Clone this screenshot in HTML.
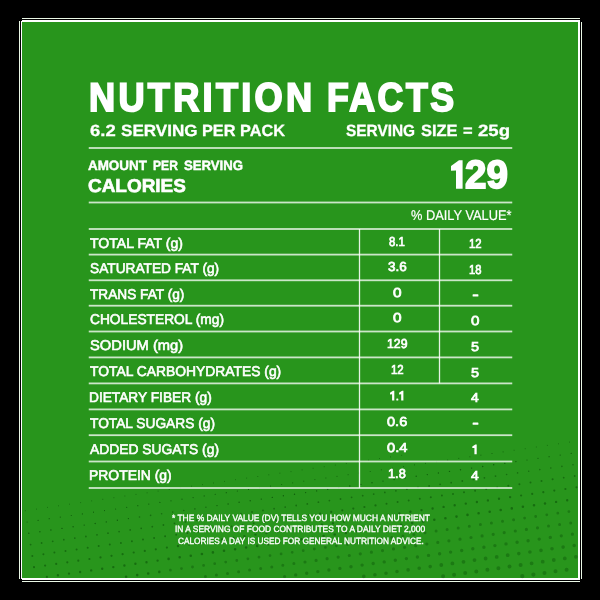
<!DOCTYPE html>
<html><head><meta charset="utf-8"><title>Nutrition Facts</title>
<style>
html,body{margin:0;padding:0;background:#000;}
body{width:600px;height:600px;position:relative;overflow:hidden;font-family:"Liberation Sans",sans-serif;color:#fff;}
.edge{position:absolute;background:#fff;}
.panel{position:absolute;left:22px;top:21.8px;width:555.9px;height:556.4px;background:#28951c;}
.t{position:absolute;white-space:nowrap;transform-origin:0 0;color:#fff;text-rendering:geometricPrecision;}
.l{position:absolute;background:rgba(255,255,255,0.76);}
svg{position:absolute;left:0;top:0;}
</style></head><body>
<div class="edge" style="left:19px;top:17.8px;width:563px;height:564.2px;background:#eaf7e6"></div>
<div class="edge" style="left:20px;top:18.9px;width:560.9px;height:562.1px;background:#000"></div>
<div class="edge" style="left:20.8px;top:19.8px;width:559.2px;height:560.2px"></div>
<div class="edge" style="left:18px;top:17px;width:4px;height:3.8px;background:#000"></div>
<div class="edge" style="left:580px;top:17px;width:3px;height:4.5px;background:#000"></div>
<div class="edge" style="left:580px;top:578.5px;width:3px;height:4.5px;background:#000"></div>
<div class="edge" style="left:18px;top:578.5px;width:4px;height:4.5px;background:#000"></div>
<div class="panel"></div>
<svg width="600" height="600" viewBox="0 0 600 600">
<g fill="none" stroke-linecap="round"><path stroke="rgba(0,62,0,0.62)" stroke-width="0.8" d="M25.3 510.7h0M36.4 509.1h0M47.4 507.4h0M58.5 505.8h0M69.6 504.2h0M80.7 502.6h0M91.7 500.9h0M102.8 499.3h0M113.9 497.7h0M124.9 496.0h0M136.0 494.4h0M147.1 492.8h0M158.1 491.1h0M169.2 489.5h0M180.3 487.9h0M191.4 486.2h0M202.4 484.6h0M213.5 483.0h0M224.6 481.4h0M235.6 479.7h0M246.7 478.1h0M257.8 476.5h0M268.8 474.8h0M279.9 473.2h0M291.0 471.6h0M302.1 469.9h0M313.1 468.3h0M324.2 466.7h0M335.3 465.1h0M346.3 463.4h0M357.4 461.8h0M368.5 460.2h0M379.5 458.5h0M390.6 456.9h0M401.7 455.3h0M514.1 450.3h0M525.2 448.7h0M536.3 447.0h0M547.3 445.4h0M558.4 443.8h0M569.5 442.1h0"/><path stroke="rgba(0,62,0,0.62)" stroke-width="1.0" d="M270.6 486.1h0M281.7 484.5h0M292.7 482.9h0M303.8 481.2h0M314.9 479.6h0M325.9 478.0h0M337.0 476.4h0M348.1 474.7h0M359.2 473.1h0M370.2 471.5h0M381.3 469.8h0M392.4 468.2h0M403.4 466.6h0M414.5 464.9h0M425.6 463.3h0M436.6 461.7h0M447.7 460.1h0M458.8 458.4h0M469.9 456.8h0M480.9 455.2h0M492.0 453.5h0M503.1 451.9h0"/><path stroke="rgba(0,62,0,0.62)" stroke-width="1.2" d="M27.1 522.0h0M38.1 520.4h0M49.2 518.7h0M60.3 517.1h0M71.3 515.5h0M82.4 513.9h0M93.5 512.2h0M104.5 510.6h0M115.6 509.0h0M126.7 507.3h0M137.8 505.7h0M148.8 504.1h0M159.9 502.4h0M171.0 500.8h0M182.0 499.2h0M193.1 497.6h0M204.2 495.9h0M215.2 494.3h0M226.3 492.7h0M237.4 491.0h0M248.5 489.4h0M259.5 487.8h0M527.0 460.0h0M538.0 458.3h0M549.1 456.7h0M560.2 455.1h0M571.2 453.4h0"/><path stroke="rgba(0,62,0,0.62)" stroke-width="1.4" d="M28.8 533.3h0M39.9 531.7h0M50.9 530.0h0M62.0 528.4h0M73.1 526.8h0M84.2 525.1h0M95.2 523.5h0M106.3 521.9h0M117.4 520.3h0M128.4 518.6h0M217.0 505.6h0M228.1 504.0h0M239.1 502.3h0M250.2 500.7h0M261.3 499.1h0M272.3 497.4h0M283.4 495.8h0M294.5 494.2h0M305.6 492.6h0M316.6 490.9h0M327.7 489.3h0M338.8 487.7h0M349.8 486.0h0M360.9 484.4h0M372.0 482.8h0M383.0 481.1h0M394.1 479.5h0M405.2 477.9h0M416.2 476.2h0M427.3 474.6h0M438.4 473.0h0M449.5 471.4h0M460.5 469.7h0M471.6 468.1h0M482.7 466.5h0M493.7 464.8h0M504.8 463.2h0M515.9 461.6h0"/><path stroke="rgba(0,62,0,0.44)" stroke-width="1.6" d="M139.5 517.0h0M150.6 515.4h0M161.6 513.7h0M172.7 512.1h0M183.8 510.5h0M194.9 508.9h0M205.9 507.2h0M506.6 474.5h0M517.6 472.9h0M528.7 471.2h0M539.8 469.6h0M550.8 468.0h0M561.9 466.4h0M573.0 464.7h0"/><path stroke="rgba(0,62,0,0.44)" stroke-width="1.8" d="M30.6 544.6h0M41.6 543.0h0M52.7 541.3h0M63.8 539.7h0M74.8 538.1h0M85.9 536.5h0M97.0 534.8h0M108.0 533.2h0M119.1 531.6h0M130.2 529.9h0M141.2 528.3h0M152.3 526.7h0M163.4 525.0h0M174.5 523.4h0M185.5 521.8h0M196.6 520.1h0M207.7 518.5h0M218.7 516.9h0M229.8 515.3h0M240.9 513.6h0M252.0 512.0h0M263.0 510.4h0M274.1 508.7h0M285.2 507.1h0M296.2 505.5h0M307.3 503.9h0M318.4 502.2h0M329.4 500.6h0M340.5 499.0h0M351.6 497.3h0M362.7 495.7h0M373.7 494.1h0M384.8 492.4h0M395.9 490.8h0M406.9 489.2h0M418.0 487.5h0M429.1 485.9h0M440.1 484.3h0M451.2 482.7h0M462.3 481.0h0M473.4 479.4h0M484.4 477.8h0M495.5 476.1h0M563.7 477.7h0M574.7 476.0h0"/><path stroke="rgba(0,62,0,0.44)" stroke-width="2.0" d="M32.3 555.9h0M43.4 554.3h0M54.4 552.6h0M65.5 551.0h0M76.6 549.4h0M87.7 547.8h0M98.7 546.1h0M109.8 544.5h0M120.9 542.9h0M131.9 541.2h0M143.0 539.6h0M154.1 538.0h0M165.1 536.3h0M176.2 534.7h0M187.3 533.1h0M198.4 531.5h0M209.4 529.8h0M220.5 528.2h0M231.6 526.6h0M242.6 524.9h0M253.7 523.3h0M386.5 503.7h0M397.6 502.1h0M408.7 500.5h0M419.8 498.8h0M430.8 497.2h0M441.9 495.6h0M453.0 494.0h0M464.0 492.3h0M475.1 490.7h0M486.2 489.1h0M497.2 487.4h0M508.3 485.8h0M519.4 484.2h0M530.5 482.6h0M541.5 480.9h0M552.6 479.3h0"/><path stroke="rgba(0,62,0,0.44)" stroke-width="2.2" d="M34.0 567.2h0M45.1 565.6h0M46.9 576.9h0M56.2 563.9h0M67.3 562.3h0M78.3 560.7h0M89.4 559.0h0M100.5 557.4h0M111.5 555.8h0M122.6 554.2h0M133.7 552.5h0M144.8 550.9h0M155.8 549.3h0M166.9 547.6h0M264.8 521.7h0M275.8 520.0h0M286.9 518.4h0M298.0 516.8h0M309.1 515.1h0M320.1 513.5h0M331.2 511.9h0M342.3 510.3h0M353.3 508.6h0M364.4 507.0h0M375.5 505.4h0M521.1 495.5h0M532.2 493.9h0M543.3 492.2h0M554.3 490.6h0M565.4 489.0h0M576.5 487.3h0"/><path stroke="rgba(0,62,0,0.44)" stroke-width="2.4" d="M57.9 575.2h0M69.0 573.6h0M80.1 572.0h0M91.2 570.4h0M102.2 568.7h0M113.3 567.1h0M124.4 565.5h0M135.4 563.8h0M146.5 562.2h0M157.6 560.6h0M178.0 546.0h0M189.0 544.4h0M200.1 542.8h0M211.2 541.1h0M222.2 539.5h0M233.3 537.9h0M244.4 536.2h0M255.5 534.6h0M266.5 533.0h0M277.6 531.3h0M288.7 529.7h0M299.7 528.1h0M310.8 526.5h0M321.9 524.8h0M332.9 523.2h0M344.0 521.6h0M355.1 519.9h0M366.2 518.3h0M377.2 516.7h0M388.3 515.0h0M399.4 513.4h0M410.4 511.8h0M421.5 510.1h0M432.6 508.5h0M443.6 506.9h0M454.7 505.3h0M465.8 503.6h0M476.9 502.0h0M487.9 500.4h0M499.0 498.7h0M510.1 497.1h0M556.1 501.9h0M567.2 500.3h0"/><path stroke="rgba(0,62,0,0.44)" stroke-width="2.6" d="M126.1 576.8h0M137.2 575.1h0M148.2 573.5h0M159.3 571.9h0M168.6 558.9h0M179.7 557.3h0M190.8 555.7h0M201.9 554.0h0M212.9 552.4h0M224.0 550.8h0M235.1 549.2h0M246.1 547.5h0M257.2 545.9h0M268.3 544.3h0M279.3 542.6h0M290.4 541.0h0M301.5 539.4h0M312.6 537.8h0M323.6 536.1h0M334.7 534.5h0M345.8 532.9h0M356.8 531.2h0M367.9 529.6h0M379.0 528.0h0M390.0 526.3h0M401.1 524.7h0M412.2 523.1h0M423.2 521.5h0M434.3 519.8h0M445.4 518.2h0M456.5 516.6h0M467.5 514.9h0M478.6 513.3h0M489.7 511.7h0M500.7 510.0h0M511.8 508.4h0M522.9 506.8h0M534.0 505.2h0M545.0 503.5h0"/><path stroke="rgba(0,62,0,0.31)" stroke-width="2.8" d="M170.4 570.2h0M181.5 568.6h0M192.5 567.0h0M203.6 565.4h0M214.7 563.7h0M225.7 562.1h0M236.8 560.5h0M247.9 558.8h0M259.0 557.2h0M270.0 555.6h0M281.1 553.9h0M292.2 552.3h0M303.2 550.7h0M314.3 549.0h0M325.4 547.4h0M336.4 545.8h0M524.6 518.1h0M535.7 516.5h0M546.8 514.8h0M557.8 513.2h0M568.9 511.6h0"/><path stroke="rgba(0,62,0,0.31)" stroke-width="3.0" d="M205.4 576.6h0M216.4 575.0h0M227.5 573.4h0M238.6 571.8h0M249.6 570.1h0M260.7 568.5h0M271.8 566.9h0M282.8 565.2h0M293.9 563.6h0M347.5 544.2h0M358.6 542.5h0M369.7 540.9h0M380.7 539.3h0M391.8 537.6h0M402.9 536.0h0M413.9 534.4h0M425.0 532.8h0M436.1 531.1h0M447.1 529.5h0M458.2 527.9h0M469.3 526.2h0M480.4 524.6h0M491.4 523.0h0M502.5 521.3h0M513.6 519.7h0M548.5 526.1h0M559.6 524.5h0M570.7 522.9h0"/><path stroke="rgba(0,62,0,0.31)" stroke-width="3.2" d="M284.6 576.5h0M305.0 562.0h0M316.1 560.4h0M327.1 558.7h0M338.2 557.1h0M349.3 555.5h0M360.3 553.8h0M371.4 552.2h0M382.5 550.6h0M393.5 548.9h0M404.6 547.3h0M415.7 545.7h0M426.8 544.0h0M437.8 542.4h0M448.9 540.8h0M460.0 539.2h0M471.0 537.5h0M482.1 535.9h0M493.2 534.3h0M504.2 532.6h0M515.3 531.0h0M526.4 529.4h0M537.5 527.8h0M561.3 535.8h0M572.4 534.2h0"/><path stroke="rgba(0,62,0,0.31)" stroke-width="3.4" d="M295.7 574.9h0M306.7 573.3h0M317.8 571.6h0M328.9 570.0h0M339.9 568.4h0M351.0 566.8h0M362.1 565.1h0M373.2 563.5h0M384.2 561.9h0M395.3 560.2h0M406.4 558.6h0M417.4 557.0h0M428.5 555.4h0M439.6 553.7h0M450.6 552.1h0M461.7 550.5h0M472.8 548.8h0M483.9 547.2h0M494.9 545.6h0M506.0 543.9h0M517.1 542.3h0M528.1 540.7h0M539.2 539.1h0M550.3 537.4h0"/><path stroke="rgba(0,62,0,0.31)" stroke-width="3.6" d="M363.8 576.4h0M374.9 574.8h0M386.0 573.2h0M397.0 571.5h0M408.1 569.9h0M419.2 568.3h0M430.2 566.6h0M518.8 553.6h0M529.9 552.0h0M541.0 550.4h0M552.0 548.7h0M563.1 547.1h0M574.2 545.5h0"/><path stroke="rgba(0,62,0,0.31)" stroke-width="3.8" d="M441.3 565.0h0M452.4 563.4h0M463.5 561.8h0M474.5 560.1h0M485.6 558.5h0M496.7 556.9h0M507.7 555.2h0M531.6 563.3h0M542.7 561.7h0M553.8 560.0h0M564.8 558.4h0M575.9 556.8h0"/><path stroke="rgba(0,62,0,0.31)" stroke-width="4.0" d="M443.1 576.3h0M454.1 574.7h0M465.2 573.1h0M476.3 571.4h0M487.4 569.8h0M498.4 568.2h0M509.5 566.5h0M520.6 564.9h0M544.5 573.0h0M555.5 571.3h0M566.6 569.7h0"/><path stroke="rgba(0,62,0,0.31)" stroke-width="4.2" d="M522.3 576.2h0M533.4 574.6h0"/></g>
<rect x="88.75" y="147.10" width="423.50" height="1.8" fill="rgba(255,255,255,0.76)"/>
<rect x="88.75" y="201.60" width="423.50" height="1.8" fill="rgba(255,255,255,0.76)"/>
<rect x="88.75" y="228.10" width="423.50" height="1.8" fill="rgba(255,255,255,0.76)"/>
<rect x="88.75" y="253.70" width="423.50" height="1.8" fill="rgba(255,255,255,0.76)"/>
<rect x="88.75" y="279.40" width="423.50" height="1.8" fill="rgba(255,255,255,0.76)"/>
<rect x="88.75" y="304.80" width="423.50" height="1.8" fill="rgba(255,255,255,0.76)"/>
<rect x="88.75" y="330.60" width="423.50" height="1.8" fill="rgba(255,255,255,0.76)"/>
<rect x="88.75" y="356.50" width="423.50" height="1.8" fill="rgba(255,255,255,0.76)"/>
<rect x="88.75" y="382.50" width="423.50" height="1.8" fill="rgba(255,255,255,0.76)"/>
<rect x="88.75" y="408.50" width="423.50" height="1.8" fill="rgba(255,255,255,0.76)"/>
<rect x="88.75" y="434.30" width="423.50" height="1.8" fill="rgba(255,255,255,0.76)"/>
<rect x="88.75" y="460.60" width="423.50" height="1.8" fill="rgba(255,255,255,0.76)"/>
<rect x="88.75" y="487.10" width="423.50" height="1.8" fill="rgba(255,255,255,0.76)"/>
<rect x="358.85" y="229.00" width="1.3" height="259.00" fill="rgba(255,255,255,0.88)"/>
<rect x="438.85" y="229.00" width="1.3" height="154.40" fill="rgba(255,255,255,0.88)"/>
<rect x="472.60" y="294.20" width="5.8" height="2.2" rx="0.5" fill="#fff"/>
<rect x="472.60" y="422.50" width="5.8" height="2.2" rx="0.5" fill="#fff"/>
<polygon points="451,166 459,160.2 462.6,160.2 462.6,188.8 456,188.8 456,170.6 451,170.8" fill="#fff"/>
<polygon points="390.00,392.77 392.97,390.80 394.30,390.80 394.30,400.50 392.08,400.50 392.08,394.33 390.00,394.40" fill="#fff"/><polygon points="399.10,392.77 402.07,390.80 403.40,390.80 403.40,400.50 401.18,400.50 401.18,394.33 399.10,394.40" fill="#fff"/><rect x="396.3" y="398.50" width="2" height="2" rx="0.6" fill="#fff"/><polygon points="472.30,446.47 475.33,444.50 476.70,444.50 476.70,454.20 474.42,454.20 474.42,448.03 472.30,448.10" fill="#fff"/>
</svg>
<div id="txt" style="position:absolute;left:0;top:0;width:600px;height:600px;will-change:transform;">
<div class="t" style="left:89.19px;top:78.12px;font-size:40.12px;line-height:40.12px;transform:scaleX(0.9027);font-weight:700;-webkit-text-stroke:1.90px #fff;letter-spacing:0.09em;">NUTRITION</div>
<div class="t" style="left:326.70px;top:78.12px;font-size:40.12px;line-height:40.12px;transform:scaleX(0.8900);font-weight:700;-webkit-text-stroke:1.90px #fff;letter-spacing:0.07em;">FACTS</div>
<div class="t" style="left:90.02px;top:122.53px;font-size:16.28px;line-height:16.28px;transform:scaleX(1.1348);font-weight:700;-webkit-text-stroke:0.30px #fff;">6.2</div>
<div class="t" style="left:120.82px;top:122.53px;font-size:16.28px;line-height:16.28px;transform:scaleX(1.0498);font-weight:700;-webkit-text-stroke:0.30px #fff;">SERVING</div>
<div class="t" style="left:201.77px;top:122.53px;font-size:16.28px;line-height:16.28px;transform:scaleX(1.0001);font-weight:700;-webkit-text-stroke:0.30px #fff;">PER</div>
<div class="t" style="left:240.27px;top:122.53px;font-size:16.28px;line-height:16.28px;transform:scaleX(1.0013);font-weight:700;-webkit-text-stroke:0.30px #fff;">PACK</div>
<div class="t" style="left:346.03px;top:122.53px;font-size:16.28px;line-height:16.28px;transform:scaleX(0.9471);font-weight:700;-webkit-text-stroke:0.30px #fff;">SERVING</div>
<div class="t" style="left:420.82px;top:122.53px;font-size:16.28px;line-height:16.28px;transform:scaleX(1.0125);font-weight:700;-webkit-text-stroke:0.30px #fff;">SIZE</div>
<div class="t" style="left:462.50px;top:122.53px;font-size:16.28px;line-height:16.28px;transform:scaleX(1.0125);font-weight:700;-webkit-text-stroke:0.30px #fff;">=</div>
<div class="t" style="left:477.61px;top:122.53px;font-size:16.28px;line-height:16.28px;transform:scaleX(1.1424);font-weight:700;-webkit-text-stroke:0.30px #fff;">25g</div>
<div class="t" style="left:87.86px;top:158.65px;font-size:13.52px;line-height:13.52px;transform:scaleX(0.9918);font-weight:700;-webkit-text-stroke:0.45px #fff;">AMOUNT</div>
<div class="t" style="left:153.18px;top:158.65px;font-size:13.52px;line-height:13.52px;transform:scaleX(0.8945);font-weight:700;-webkit-text-stroke:0.45px #fff;">PER</div>
<div class="t" style="left:183.96px;top:158.65px;font-size:13.52px;line-height:13.52px;transform:scaleX(0.9734);font-weight:700;-webkit-text-stroke:0.45px #fff;">SERVING</div>
<div class="t" style="left:87.97px;top:177.21px;font-size:18.68px;line-height:18.68px;transform:scaleX(1.0144);font-weight:700;-webkit-text-stroke:0.65px #fff;">CALORIES</div>
<div class="t" style="left:452px;top:156px;font-size:36px;line-height:36px;color:transparent;transform:scaleX(0.5)">1</div>
<div class="t" style="left:465.07px;top:155.63px;font-size:39.53px;line-height:39.53px;transform:scaleX(0.9755);font-weight:700;-webkit-text-stroke:1.80px #fff;">29</div>
<div class="t" style="left:410.85px;top:208.47px;font-size:14.10px;line-height:14.10px;transform:scaleX(0.9104);-webkit-text-stroke:0.20px #fff;">% DAILY VALUE*</div>
<div class="t" style="left:89.94px;top:235.52px;font-size:14.10px;line-height:14.10px;transform:scaleX(0.9978);-webkit-text-stroke:0.60px #fff;">TOTAL FAT (g)</div>
<div class="t" style="left:389.40px;top:235.60px;font-size:12.94px;line-height:12.94px;transform:scaleX(0.8823);-webkit-text-stroke:0.70px #fff;">8.1</div>
<div class="t" style="left:469.06px;top:237.50px;font-size:12.94px;line-height:12.94px;transform:scaleX(0.8759);-webkit-text-stroke:0.70px #fff;">12</div>
<div class="t" style="left:89.74px;top:261.27px;font-size:14.10px;line-height:14.10px;transform:scaleX(0.9721);-webkit-text-stroke:0.60px #fff;">SATURATED FAT (g)</div>
<div class="t" style="left:387.74px;top:261.20px;font-size:12.94px;line-height:12.94px;transform:scaleX(1.0420);-webkit-text-stroke:0.70px #fff;">3.6</div>
<div class="t" style="left:469.07px;top:264.20px;font-size:12.94px;line-height:12.94px;transform:scaleX(0.8676);-webkit-text-stroke:0.70px #fff;">18</div>
<div class="t" style="left:89.86px;top:286.97px;font-size:14.10px;line-height:14.10px;transform:scaleX(0.9697);-webkit-text-stroke:0.60px #fff;">TRANS FAT (g)</div>
<div class="t" style="left:393.24px;top:287.20px;font-size:12.94px;line-height:12.94px;transform:scaleX(1.1903);-webkit-text-stroke:0.70px #fff;">0</div>
<div class="t" style="left:89.60px;top:312.37px;font-size:14.10px;line-height:14.10px;transform:scaleX(0.9761);-webkit-text-stroke:0.60px #fff;">CHOLESTEROL (mg)</div>
<div class="t" style="left:393.24px;top:311.50px;font-size:12.94px;line-height:12.94px;transform:scaleX(1.1903);-webkit-text-stroke:0.70px #fff;">0</div>
<div class="t" style="left:471.29px;top:315.40px;font-size:12.94px;line-height:12.94px;transform:scaleX(1.1766);-webkit-text-stroke:0.70px #fff;">0</div>
<div class="t" style="left:89.72px;top:338.23px;font-size:14.10px;line-height:14.10px;transform:scaleX(1.0443);-webkit-text-stroke:0.60px #fff;">SODIUM (mg)</div>
<div class="t" style="left:386.78px;top:337.90px;font-size:12.94px;line-height:12.94px;transform:scaleX(0.9485);-webkit-text-stroke:0.70px #fff;">129</div>
<div class="t" style="left:471.35px;top:341.00px;font-size:12.94px;line-height:12.94px;transform:scaleX(1.1160);-webkit-text-stroke:0.70px #fff;">5</div>
<div class="t" style="left:89.63px;top:364.07px;font-size:14.10px;line-height:14.10px;transform:scaleX(0.9832);-webkit-text-stroke:0.60px #fff;">TOTAL CARBOHYDRATES (g)</div>
<div class="t" style="left:390.77px;top:364.40px;font-size:12.94px;line-height:12.94px;transform:scaleX(0.8816);-webkit-text-stroke:0.70px #fff;">12</div>
<div class="t" style="left:471.35px;top:366.80px;font-size:12.94px;line-height:12.94px;transform:scaleX(1.1160);-webkit-text-stroke:0.70px #fff;">5</div>
<div class="t" style="left:89.18px;top:390.07px;font-size:14.10px;line-height:14.10px;transform:scaleX(0.9732);-webkit-text-stroke:0.60px #fff;">DIETARY FIBER (g)</div>
<div class="t" style="left:389.60px;top:390.40px;font-size:12.94px;line-height:12.94px;transform:scaleX(0.8090);color:transparent;">1.1</div>
<div class="t" style="left:470.60px;top:391.60px;font-size:12.94px;line-height:12.94px;transform:scaleX(1.0734);-webkit-text-stroke:0.70px #fff;">4</div>
<div class="t" style="left:89.77px;top:416.07px;font-size:14.10px;line-height:14.10px;transform:scaleX(0.9750);-webkit-text-stroke:0.60px #fff;">TOTAL SUGARS (g)</div>
<div class="t" style="left:387.09px;top:416.40px;font-size:12.94px;line-height:12.94px;transform:scaleX(1.1244);-webkit-text-stroke:0.70px #fff;">0.6</div>
<div class="t" style="left:90.33px;top:441.87px;font-size:14.10px;line-height:14.10px;transform:scaleX(0.9828);-webkit-text-stroke:0.60px #fff;">ADDED SUGATS (g)</div>
<div class="t" style="left:387.10px;top:442.00px;font-size:12.94px;line-height:12.94px;transform:scaleX(1.1306);-webkit-text-stroke:0.70px #fff;">0.4</div>
<div class="t" style="left:471.99px;top:443.80px;font-size:12.94px;line-height:12.94px;transform:scaleX(0.6510);color:transparent;">1</div>
<div class="t" style="left:89.39px;top:468.17px;font-size:14.10px;line-height:14.10px;transform:scaleX(0.9869);-webkit-text-stroke:0.60px #fff;">PROTEIN (g)</div>
<div class="t" style="left:388.11px;top:467.90px;font-size:12.94px;line-height:12.94px;transform:scaleX(0.9879);-webkit-text-stroke:0.70px #fff;">1.8</div>
<div class="t" style="left:470.60px;top:469.80px;font-size:12.94px;line-height:12.94px;transform:scaleX(1.0734);-webkit-text-stroke:0.70px #fff;">4</div>
<div class="t" style="left:171.91px;top:513.70px;font-size:9.08px;line-height:9.08px;transform:scaleX(0.9281);-webkit-text-stroke:0.35px #fff;">* THE % DAILY VALUE (DV) TELLS YOU HOW MUCH A NUTRIENT</div>
<div class="t" style="left:174.77px;top:524.79px;font-size:9.08px;line-height:9.08px;transform:scaleX(0.9268);-webkit-text-stroke:0.35px #fff;">IN A SERVING OF FOOD CONTRIBUTES TO A DAILY DIET 2,000</div>
<div class="t" style="left:178.33px;top:536.58px;font-size:9.08px;line-height:9.08px;transform:scaleX(0.9098);-webkit-text-stroke:0.35px #fff;">CALORIES A DAY IS USED FOR GENERAL NUTRITION ADVICE.</div>
</div>
</body></html>
